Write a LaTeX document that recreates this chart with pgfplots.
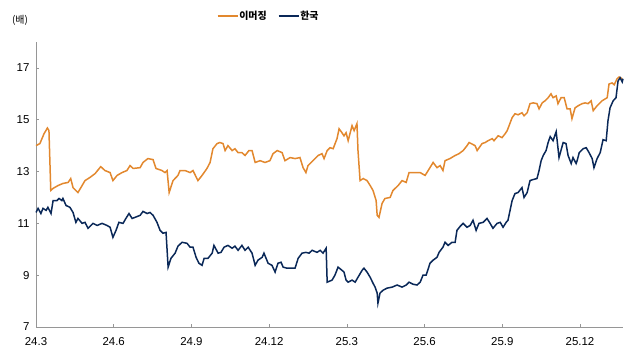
\documentclass[border=0pt]{standalone}
\usepackage{fontspec}
\setmainfont{Liberation Sans}
\newfontfamily\kr{Noto Sans CJK KR}
\usepackage{pgfplots}
\pgfplotsset{compat=1.18}
\definecolor{emorange}{RGB}{226,136,46}
\definecolor{krnavy}{RGB}{10,40,88}
\definecolor{axgray}{RGB}{150,150,150}
\begin{document}
\begin{tikzpicture}
\path[use as bounding box] (0bp,0bp) rectangle (640bp,360bp);
\begin{axis}[
  at={(36bp,33bp)}, anchor=south west,
  scale only axis, width=587bp, height=285bp,
  xmin=0, xmax=22.66, ymin=7, ymax=18,
  axis x line=bottom, axis y line=left,
  axis line style={axgray, line width=0.8bp, -},
  tick style={axgray, line width=0.6bp},
  tick align=inside, major tick length=3bp,
  xtick={0,3,6,9,12,15,18,21},
  xticklabels={24.3,24.6,24.9,24.12,25.3,25.6,25.9,25.12},
  ytick={7,9,11,13,15,17},
  /pgf/number format/assume math mode=true,
  tick label style={font=\fontsize{11.5}{13}\selectfont, text=black},
  xticklabel style={yshift=-7bp},
  yticklabel style={xshift=-3bp},
  legend style={at={(0.308,1.091)}, anchor=west, draw=none, fill=none,
    inner sep=0bp, outer sep=0bp,
    font=\kr\bfseries\fontsize{10}{12}\selectfont, column sep=0bp,
    nodes={inner sep=1bp},
    /tikz/every even column/.append style={column sep=10bp}},
  legend columns=2,
  legend image code/.code={\draw[#1] (0bp,0bp) -- (20bp,0bp);},
  clip=false,
]
\addplot[emorange, line width=1.5bp] coordinates {
(0,14.00)(0.15,14.08)(0.31,14.46)(0.44,14.68)(0.50,14.58)(0.57,12.27)(0.66,12.35)(0.85,12.46)(1.04,12.54)(1.24,12.58)(1.34,12.73)(1.43,12.38)(1.62,12.19)(1.78,12.46)(1.89,12.65)(2.08,12.77)(2.28,12.92)(2.50,13.19)(2.66,13.04)(2.86,12.96)(2.97,12.65)(3.13,12.85)(3.32,12.96)(3.51,13.04)(3.63,13.23)(3.75,13.12)(4.02,13.15)(4.13,13.35)(4.32,13.50)(4.52,13.46)(4.63,13.12)(4.86,13.04)(4.98,12.96)(5.06,13.04)(5.14,12.19)(5.29,12.65)(5.48,12.85)(5.56,13.04)(5.75,13.04)(5.95,12.96)(6.06,13.04)(6.25,12.65)(6.41,12.85)(6.60,13.12)(6.72,13.35)(6.83,13.88)(6.99,14.08)(7.10,14.12)(7.22,14.08)(7.30,13.81)(7.41,14.00)(7.57,13.81)(7.68,13.88)(7.80,13.73)(7.95,13.73)(8.07,13.62)(8.22,13.81)(8.34,13.81)(8.46,13.35)(8.65,13.42)(8.84,13.35)(9.03,13.42)(9.15,13.69)(9.31,13.81)(9.50,13.73)(9.61,13.42)(9.81,13.54)(10.00,13.50)(10.19,13.54)(10.31,13.15)(10.42,12.96)(10.50,13.23)(10.69,13.42)(10.89,13.62)(11.04,13.69)(11.12,13.50)(11.24,13.81)(11.35,13.92)(11.47,13.88)(11.62,14.27)(11.70,14.65)(11.81,14.50)(11.89,14.38)(11.97,14.50)(12.05,14.19)(12.20,14.77)(12.28,14.58)(12.39,14.85)(12.43,13.81)(12.51,12.65)(12.63,12.73)(12.78,12.65)(12.90,12.46)(13.01,12.27)(13.13,11.88)(13.17,11.31)(13.24,11.23)(13.36,11.77)(13.47,11.96)(13.67,12.00)(13.78,12.27)(13.98,12.46)(14.13,12.65)(14.29,12.58)(14.40,12.96)(14.63,12.96)(14.83,12.96)(15.02,12.85)(15.14,13.04)(15.33,13.35)(15.48,13.15)(15.60,13.23)(15.71,13.04)(15.79,13.42)(15.98,13.50)(16.18,13.62)(16.33,13.69)(16.49,13.81)(16.64,14.00)(16.72,14.12)(16.95,14.00)(17.03,13.81)(17.22,14.08)(17.34,14.12)(17.45,14.19)(17.61,14.27)(17.68,14.19)(17.84,14.38)(17.99,14.31)(18.11,14.46)(18.19,14.58)(18.38,15.08)(18.49,15.23)(18.61,15.19)(18.76,15.27)(18.84,15.15)(18.96,15.27)(19.07,15.62)(19.19,15.65)(19.34,15.62)(19.42,15.42)(19.54,15.65)(19.65,15.73)(19.77,15.85)(19.88,16.00)(19.96,15.85)(20.08,15.92)(20.15,15.62)(20.27,15.85)(20.39,15.85)(20.50,15.42)(20.62,15.42)(20.69,15.04)(20.81,15.46)(20.93,15.54)(21.08,15.62)(21.20,15.65)(21.31,15.62)(21.43,15.73)(21.51,15.35)(21.66,15.54)(21.85,15.73)(22.05,15.85)(22.12,16.38)(22.24,16.42)(22.32,16.35)(22.43,16.58)(22.51,16.65)(22.63,16.58)
};
\addlegendentry{이머징}
\addplot[krnavy, line width=1.5bp] coordinates {
(0,11.42)(0.08,11.58)(0.19,11.38)(0.27,11.58)(0.39,11.50)(0.46,11.62)(0.58,11.38)(0.66,11.88)(0.81,11.88)(0.89,11.96)(1.00,11.88)(1.04,11.96)(1.16,11.69)(1.31,11.62)(1.43,11.42)(1.54,11.04)(1.62,11.19)(1.78,11.00)(1.89,11.04)(2.01,10.81)(2.20,11.00)(2.36,10.92)(2.55,11.00)(2.74,10.92)(2.86,10.85)(2.97,10.46)(3.09,10.73)(3.20,11.04)(3.36,11.00)(3.47,11.19)(3.59,11.38)(3.71,11.19)(3.82,11.23)(4.02,11.31)(4.13,11.46)(4.29,11.38)(4.40,11.42)(4.52,11.31)(4.67,11.04)(4.79,10.73)(4.90,10.62)(5.02,10.65)(5.10,9.31)(5.21,9.65)(5.37,9.85)(5.48,10.12)(5.64,10.27)(5.83,10.23)(5.95,10.08)(6.06,10.08)(6.18,9.69)(6.29,9.46)(6.41,9.38)(6.49,9.65)(6.64,9.65)(6.80,9.85)(6.87,10.15)(7.03,9.85)(7.14,9.88)(7.26,10.08)(7.41,10.15)(7.57,10.04)(7.68,10.12)(7.80,9.96)(7.95,10.15)(8.07,9.96)(8.19,10.08)(8.34,9.85)(8.46,9.38)(8.57,9.58)(8.73,9.69)(8.80,9.85)(8.96,9.46)(9.11,9.38)(9.23,9.12)(9.34,9.46)(9.46,9.50)(9.54,9.31)(9.69,9.27)(10.00,9.27)(10.12,9.65)(10.27,9.85)(10.42,9.88)(10.54,9.85)(10.66,9.96)(10.85,9.88)(10.97,9.96)(11.08,9.85)(11.20,10.04)(11.24,8.73)(11.43,8.81)(11.54,9.00)(11.66,9.31)(11.81,9.19)(11.89,9.12)(11.97,8.81)(12.05,8.73)(12.20,8.81)(12.32,8.73)(12.43,8.92)(12.59,9.19)(12.66,9.27)(12.78,9.12)(12.90,8.92)(13.01,8.69)(13.09,8.54)(13.17,8.31)(13.20,7.92)(13.28,8.31)(13.40,8.42)(13.55,8.50)(13.75,8.54)(13.94,8.62)(14.13,8.54)(14.29,8.62)(14.40,8.73)(14.56,8.65)(14.71,8.62)(14.83,8.73)(14.94,9.00)(15.06,9.00)(15.21,9.46)(15.33,9.58)(15.48,9.69)(15.56,9.88)(15.71,10.08)(15.79,10.27)(15.91,10.15)(16.06,10.27)(16.18,10.27)(16.25,10.73)(16.37,10.88)(16.49,11.00)(16.64,10.85)(16.76,10.92)(16.87,11.12)(16.99,10.73)(17.10,11.00)(17.26,11.04)(17.41,11.19)(17.53,11.00)(17.64,10.81)(17.80,11.00)(17.92,11.04)(18.03,10.85)(18.15,11.04)(18.22,11.12)(18.38,11.88)(18.49,12.15)(18.61,12.19)(18.76,12.38)(18.84,12.00)(18.96,12.19)(19.07,12.65)(19.19,12.69)(19.34,12.73)(19.42,13.04)(19.50,13.42)(19.58,13.62)(19.69,13.81)(19.77,14.12)(19.85,14.35)(19.96,14.19)(20.08,14.54)(20.19,13.54)(20.35,14.12)(20.46,14.08)(20.54,13.62)(20.66,13.31)(20.73,13.54)(20.85,13.31)(20.89,13.42)(20.97,13.73)(21.12,13.88)(21.24,13.92)(21.35,13.73)(21.47,13.50)(21.54,13.15)(21.66,13.50)(21.78,13.73)(21.89,14.23)(22.01,14.19)(22.08,14.96)(22.16,15.46)(22.28,15.73)(22.39,15.85)(22.47,16.50)(22.55,16.62)(22.63,16.46)(22.66,16.58)
};
\addlegendentry{한국}
\end{axis}
\node[font=\kr\fontsize{10}{12}\selectfont, anchor=center] at (20bp,340bp) {(배)};
\end{tikzpicture}
\end{document}
